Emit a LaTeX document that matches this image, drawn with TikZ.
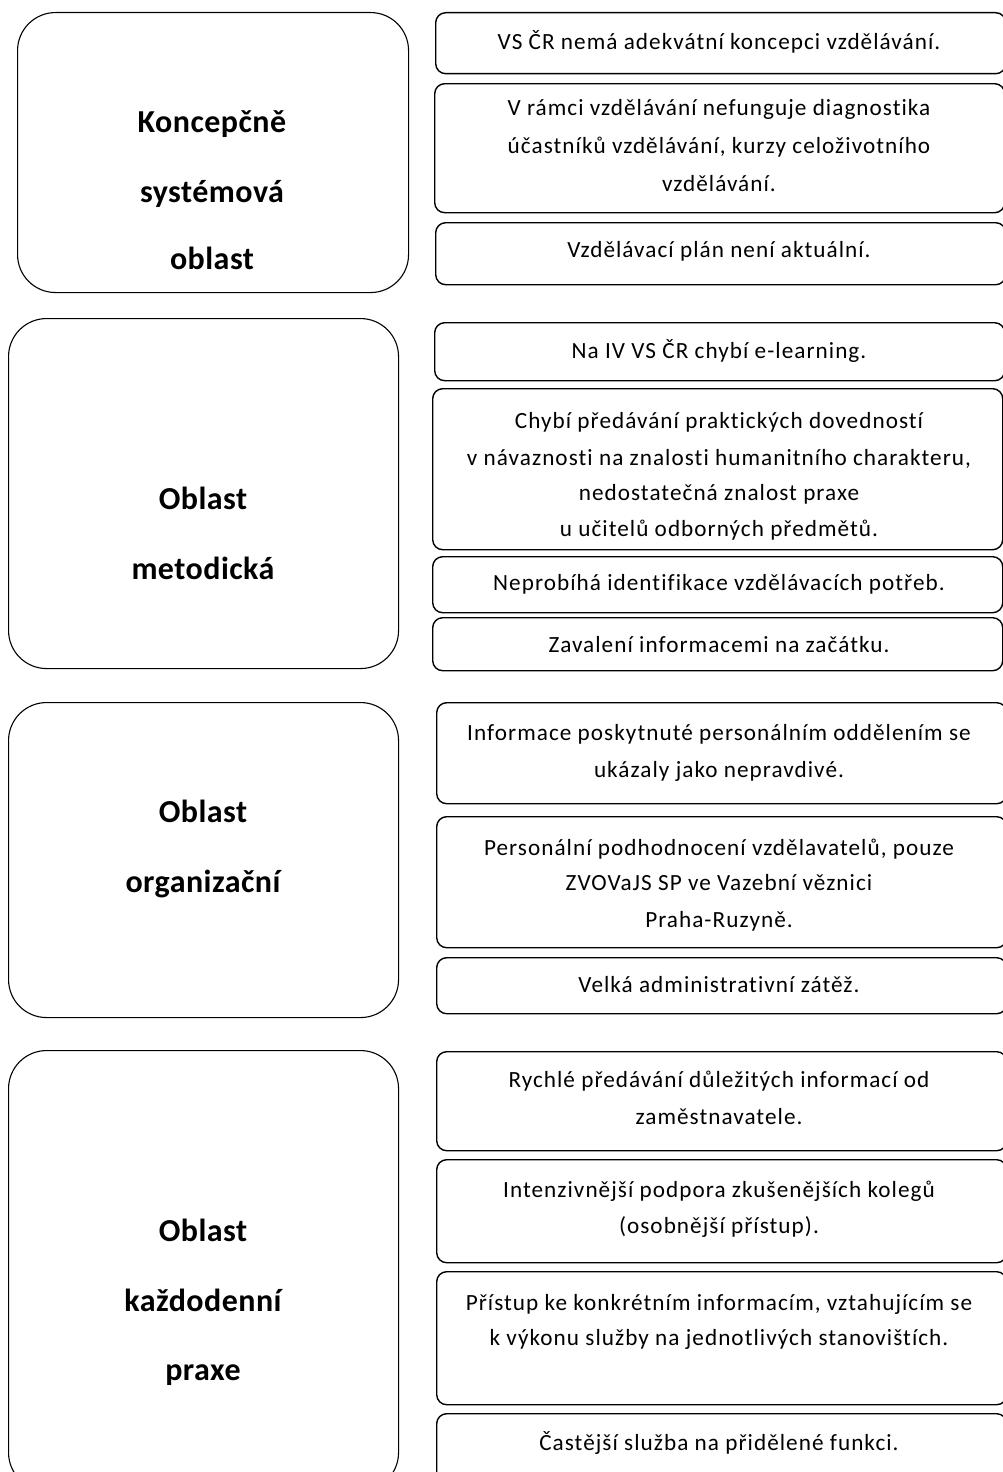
\documentclass[tikz,border=0pt]{standalone}
\usepackage{fontspec}
\setmainfont{Carlito}
\newfontfamily\rfont{Carlito}[LetterSpace=4.5,Ligatures=NoCommon]
\newfontfamily\lfont{Carlito}[LetterSpace=1.5,Ligatures=NoCommon]
\begin{document}
\begin{tikzpicture}[x=1pt,y=-1pt,
  lbox/.style={draw, line width=1.1pt, rounded corners=38pt, inner sep=0pt, anchor=north west},
  rbox/.style={draw, line width=1.4pt, rounded corners=10pt, inner sep=0pt, anchor=north west, minimum width=570pt},
  ltext/.style={font=\lfont\fontsize{32}{36}\selectfont\bfseries, anchor=base, inner sep=0pt},
  rtext/.style={font=\rfont\fontsize{23.2}{26}\selectfont, anchor=base, inner sep=0pt}]
\useasboundingbox (0,0) rectangle (1002,1472);
\fill[white] (0,0) rectangle (1002,1472);

% ---- left boxes
\node[lbox, minimum width=391pt, minimum height=280pt] (l1) at (17,12) {};
\node[lbox, minimum width=390pt, minimum height=350pt] (l2) at (8,318) {};
\node[lbox, minimum width=390pt, minimum height=315pt] (l3) at (8,702) {};
\node[lbox, minimum width=390pt, minimum height=440pt] (l4) at (8,1050) {};

\node[ltext] (l1a) at (212,132) {Koncepčně};
\node[ltext] (l1b) at (212,202) {systémová};
\node[ltext] (l1c) at (212,269) {oblast};
\node[ltext] (l2a) at (203,509) {Oblast};
\node[ltext] (l2b) at (203,579) {metodická};
\node[ltext] (l3a) at (203,822) {Oblast};
\node[ltext] (l3b) at (203,892) {organizační};
\node[ltext] (l4a) at (203,1241) {Oblast};
\node[ltext] (l4b) at (203,1311) {každodenní};
\node[ltext] (l4c) at (203,1380) {praxe};

% ---- right boxes
\node[rbox, minimum height=61pt]  (r1)  at (435,12) {};
\node[rbox, minimum height=129pt] (r2)  at (434,83) {};
\node[rbox, minimum height=62pt]  (r3)  at (435,222) {};
\node[rbox, minimum height=58pt]  (r4)  at (434,322) {};
\node[rbox, minimum height=161pt] (r5)  at (432,388) {};
\node[rbox, minimum height=56pt]  (r6)  at (432,556) {};
\node[rbox, minimum height=53pt]  (r7)  at (432,617) {};
\node[rbox, minimum height=101pt] (r8)  at (436,702) {};
\node[rbox, minimum height=131pt] (r9)  at (436,816) {};
\node[rbox, minimum height=56pt]  (r10) at (436,957) {};
\node[rbox, minimum height=99pt]  (r11) at (436,1051) {};
\node[rbox, minimum height=103pt] (r12) at (436,1159) {};
\node[rbox, minimum height=133pt] (r13) at (436,1271) {};
\node[rbox, minimum height=77pt]  (r14) at (436,1413) {};

\def\cx{719}
\node[rtext] (r1a) at (\cx,50) {VS ČR nemá adekvátní koncepci vzdělávání.};
\node[rtext] (r2a) at (\cx,115) {V rámci vzdělávání nefunguje diagnostika};
\node[rtext] (r2b) at (\cx,153) {účastníků vzdělávání, kurzy celoživotního};
\node[rtext] (r2c) at (\cx,191) {vzdělávání.};
\node[rtext] (r3a) at (\cx,257) {Vzdělávací plán není aktuální.};
\node[rtext] (r4a) at (\cx,358) {Na IV VS ČR chybí e-learning.};
\node[rtext] (r5a) at (\cx,428) {Chybí předávání praktických dovedností};
\node[rtext] (r5b) at (\cx,465) {v návaznosti na znalosti humanitního charakteru,};
\node[rtext] (r5c) at (\cx,500) {nedostatečná znalost praxe};
\begin{scope}
  \clip (400,510) rectangle (1010,539);
  \node[rtext] (r5d) at (\cx,536) {u učitelů odborných předmětů.};
\end{scope}
\node[rtext] (r6a) at (\cx,590) {Neprobíhá identifikace vzdělávacích potřeb.};
\node[rtext] (r7a) at (\cx,652) {Zavalení informacemi na začátku.};
\node[rtext] (r8a) at (\cx,740) {Informace poskytnuté personálním oddělením se};
\node[rtext] (r8b) at (\cx,777) {ukázaly jako nepravdivé.};
\node[rtext] (r9a) at (\cx,855) {Personální podhodnocení vzdělavatelů, pouze};
\node[rtext] (r9b) at (\cx,890) {ZVOVaJS SP ve Vazební věznici};
\node[rtext] (r9c) at (\cx,927) {Praha-Ruzyně.};
\node[rtext] (r10a) at (\cx,992) {Velká administrativní zátěž.};
\node[rtext] (r11a) at (\cx,1087) {Rychlé předávání důležitých informací od};
\node[rtext] (r11b) at (\cx,1124) {zaměstnavatele.};
\node[rtext] (r12a) at (\cx,1197) {Intenzivnější podpora zkušenějších kolegů};
\node[rtext] (r12b) at (\cx,1233) {(osobnější přístup).};
\node[rtext] (r13a) at (\cx,1310) {Přístup ke konkrétním informacím, vztahujícím se};
\node[rtext] (r13b) at (\cx,1345) {k výkonu služby na jednotlivých stanovištích.};
\node[rtext] (r14a) at (\cx,1450) {Častější služba na přidělené funkci.};
\end{tikzpicture}
\end{document}
